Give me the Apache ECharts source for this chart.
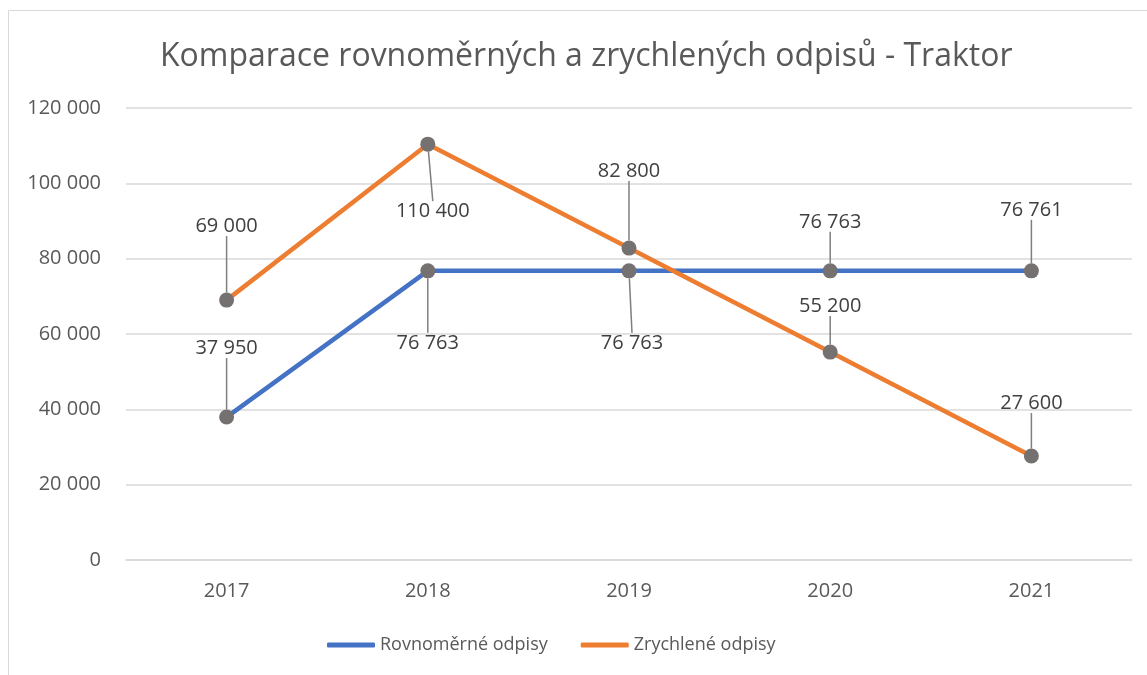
<!DOCTYPE html>
<html>
<head>
<meta charset="utf-8">
<script src="https://cdn.jsdelivr.net/npm/echarts@6/dist/echarts.min.js"></script>
<style>
html,body{margin:0;padding:0;background:#fff;}
#c{width:1147px;height:675px;}
</style>
</head>
<body>
<div id="c"></div>
<script>
// ---- data ----
const years = ['2017', '2018', '2019', '2020', '2021'];
const rovnomerne = [37950, 76763, 76763, 76763, 76761];
const zrychlene = [69000, 110400, 82800, 55200, 27600];
const seriesNames = ['Rovnoměrné odpisy', 'Zrychlené odpisy'];
const yTicks = [0, 20000, 40000, 60000, 80000, 100000, 120000];

// ---- label placement (style) ----
const labelOffsets = [
  [[0, -69], [0, 72], [3, 72], [0, -49], [0, -61]],
  [[0, -74], [5, 67], [0, -77], [0, -46], [0, -53]]
];
const colors = ['#4472C4', '#ED7D31'];

const FONT = '"Open Sans", "Noto Sans", sans-serif';
function fmt(v) {
  return String(v).replace(/\B(?=(\d{3})+(?!\d))/g, ' ');
}

const chart = echarts.init(document.getElementById('c'));

function makeSeries(name, values, color, idx) {
  return {
    name: name,
    type: 'line',
    data: values,
    color: color,
    symbol: 'circle',
    symbolSize: 15,
    lineStyle: { color: color, width: 4.5 },
    itemStyle: { color: '#767171', borderWidth: 0 },
    z: 2 + idx,
    label: {
      show: true,
      position: 'inside',
      formatter: p => fmt(p.value),
      color: '#404040',
      fontFamily: FONT,
      fontSize: 20
    },
    labelLine: {
      show: true,
      length2: 0,
      lineStyle: { color: '#7f7f7f', width: 1.5 }
    },
    labelLayout: function (p) {
      const o = labelOffsets[idx][p.dataIndex];
      return { dx: o[0], dy: o[1] };
    },
    emphasis: { disabled: true },
    animation: false
  };
}

chart.setOption({
  backgroundColor: '#fff',
  animation: false,
  title: {
    text: 'Komparace rovnoměrných a zrychlených odpisů - Traktor',
    left: 155,
    top: 36,
    textStyle: { color: '#595959', fontFamily: FONT, fontSize: 32, fontWeight: 'normal' }
  },
  graphic: [{
    type: 'rect',
    shape: { x: 8.5, y: 10.5, width: 1400, height: 900 },
    style: { fill: 'none', stroke: '#d9d9d9', lineWidth: 1 },
    silent: true,
    z: 0
  }],
  legend: {
    data: seriesNames.map((n, i) => ({ name: n, itemStyle: { color: colors[i] } })),
    bottom: 16,
    left: 322,
    icon: 'roundRect',
    itemWidth: 48,
    itemHeight: 5,
    itemGap: 33,
    textStyle: { color: '#595959', fontFamily: FONT, fontSize: 18 }
  },
  grid: { left: 126, right: 15, top: 108, bottom: 115 },
  xAxis: {
    type: 'category',
    data: years,
    boundaryGap: true,
    axisLine: { lineStyle: { color: '#d9d9d9', width: 1.5 } },
    axisTick: { show: false },
    axisLabel: { color: '#595959', fontFamily: FONT, fontSize: 20, margin: 21 }
  },
  yAxis: {
    type: 'value',
    min: yTicks[0],
    max: yTicks[yTicks.length - 1],
    interval: yTicks[1] - yTicks[0],
    axisLine: { show: false },
    axisTick: { show: false },
    splitLine: { lineStyle: { color: '#d9d9d9', width: 1.5 } },
    axisLabel: { color: '#595959', fontFamily: FONT, fontSize: 20, margin: 25, formatter: v => fmt(v) }
  },
  series: [
    makeSeries(seriesNames[0], rovnomerne, colors[0], 0),
    makeSeries(seriesNames[1], zrychlene, colors[1], 1)
  ]
});
</script>
</body>
</html>
